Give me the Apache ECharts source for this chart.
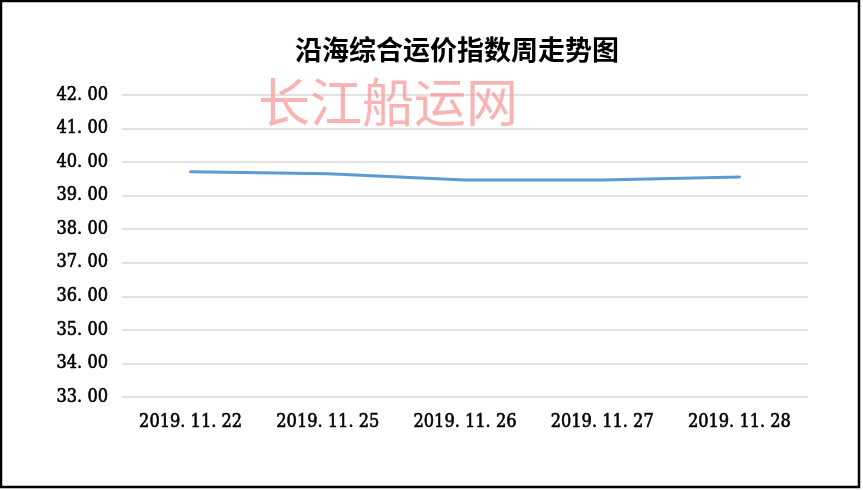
<!DOCTYPE html>
<html>
<head>
<meta charset="utf-8">
<script src="https://cdn.jsdelivr.net/npm/echarts@6/dist/echarts.min.js"></script>
<style>
  html, body { margin: 0; padding: 0; background: #fff; }
  #chart { width: 863px; height: 490px; }
</style>
</head>
<body>
<div id="chart"></div>
<script>
// Weekly coastal composite freight index
var categories = ['2019.11.22', '2019.11.25', '2019.11.26', '2019.11.27', '2019.11.28'];
var indexValues = [39.71, 39.65, 39.47, 39.47, 39.56];
var yTicks = { min: 33, max: 42, interval: 1 };

var labelFont = '"DejaVu Serif Condensed", "DejaVu Serif", "Liberation Serif", serif';

function spacedDots(s) { return String(s).split('.').join('. '); }

var chart = echarts.init(document.getElementById('chart'), null, { renderer: 'canvas' });

chart.setOption({
  backgroundColor: '#ffffff',
  animation: false,
  grid: { left: 122, right: 55, top: 95, bottom: 93 },
  xAxis: {
    type: 'category',
    data: categories,
    boundaryGap: true,
    axisLine: { show: false },
    axisTick: { show: false },
    axisLabel: {
      margin: 16,
      fontFamily: labelFont,
      fontSize: 18,
      color: '#000',
      textBorderColor: '#000',
      textBorderWidth: 0.6,
      formatter: spacedDots
    }
  },
  yAxis: {
    type: 'value',
    min: yTicks.min,
    max: yTicks.max,
    interval: yTicks.interval,
    axisLine: { show: false },
    axisTick: { show: false },
    splitLine: { lineStyle: { color: '#d9d9d9', width: 1.5 } },
    axisLabel: {
      margin: 14,
      fontFamily: labelFont,
      fontSize: 18,
      color: '#000',
      textBorderColor: '#000',
      textBorderWidth: 0.6,
      formatter: function (v) { return spacedDots(v.toFixed(2)); }
    }
  },
  series: [{
    type: 'line',
    data: indexValues,
    symbol: 'none',
    smooth: false,
    lineStyle: { color: '#5b9bd5', width: 3, cap: 'round' }
  }],
  graphic: [
    {
      type: 'text',
      x: 457,
      y: 50,
      z: 50,
      style: {
        text: '沿海综合运价指数周走势图',
        font: 'bold 27px "Noto Sans CJK SC", sans-serif',
        fill: '#000',
        textAlign: 'center',
        textVerticalAlign: 'middle'
      }
    },
    {
      type: 'text',
      left: 258,
      top: 76,
      z: 100,
      style: {
        text: '长江船运网',
        font: '52px "Noto Sans CJK SC", sans-serif',
        fill: 'rgba(248,150,150,0.72)',
        shadowColor: 'rgba(110,110,110,0.5)',
        shadowBlur: 3,
        shadowOffsetX: 1,
        shadowOffsetY: 2
      }
    },
    {
      type: 'rect',
      shape: { x: 1, y: 1, width: 858, height: 486 },
      style: { fill: 'none', stroke: '#000', lineWidth: 2.5 },
      z: 200
    }
  ]
});
</script>
</body>
</html>
